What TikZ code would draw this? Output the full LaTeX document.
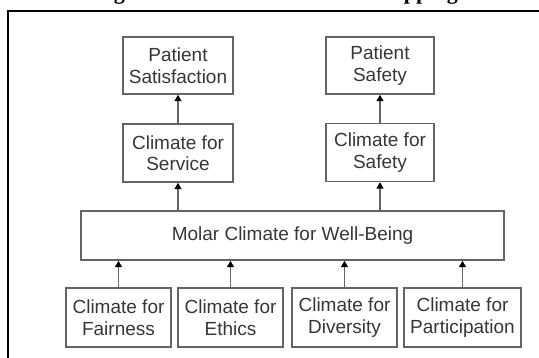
\documentclass[tikz,border=0pt]{standalone}
\usepackage{fontspec}
\setmainfont{Liberation Sans}
\newfontfamily\headfont{Liberation Serif}
\usetikzlibrary{arrows.meta}
\definecolor{boxline}{HTML}{646464}
\definecolor{boxtext}{HTML}{363636}
\begin{document}
\begin{tikzpicture}[x=1pt,y=-1pt,
  box/.style={draw=boxline, line width=1.5pt, text=boxtext, inner sep=0pt,
              align=center, font=\fontsize{19}{21.5}\selectfont},
  link/.style={draw=boxline, line width=1.5pt,
               -{Triangle[length=6.5pt,width=7pt,color=black]}},
  headline/.style={anchor=base west, inner sep=0pt,
                   font=\headfont\bfseries\fontsize{22}{26}\selectfont}]
\useasboundingbox (0,0) rectangle (539,358);
\begin{scope}
  \clip (0,0) rectangle (539,358);
  % heading line above the frame (only its lowest strokes fall inside)
  \node[headline] (hfig) at (94,0) {Figure};
  \node[headline] (hmap) at (372,0) {Mapping};
  % frame
  \draw[line width=2.5pt] (7.8,362) -- (7.8,11.2) -- (545,11.2);
\end{scope}

% outcomes
\node[box, minimum width=110pt, minimum height=57pt] (psat) at (178,65.5) {Patient\\Satisfaction};
\node[box, minimum width=108pt, minimum height=57pt] (psafe) at (380,65.5) {Patient\\Safety};

% focused climates
\node[box, minimum width=110pt, minimum height=58pt] (cserv) at (178,153) {Climate for\\Service};
\node[box, minimum width=108pt, minimum height=58pt] (csafe) at (380,152.5) {Climate for\\Safety};

% molar climate
\node[box, minimum width=423pt, minimum height=49pt] (molar) at (292.5,235.5) {Molar Climate for Well-Being};

% foundation climates
\node[box, minimum width=105pt, minimum height=59pt] (fair) at (118.5,317.5) {Climate for\\Fairness};
\node[box, minimum width=105pt, minimum height=59pt] (ethic) at (230.5,317.5) {Climate for\\Ethics};
\node[box, minimum width=105pt, minimum height=59pt] (div) at (344.5,317.5) {Climate for\\Diversity};
\node[box, minimum width=117pt, minimum height=59pt] (part) at (462.5,317.5) {Climate for\\Participation};

% links
\draw[link] (cserv.north) -- (psat.south);
\draw[link] (csafe.north) -- (psafe.south);
\draw[link] (cserv.south |- molar.north) -- (cserv.south);
\draw[link] (csafe.south |- molar.north) -- (csafe.south);
\foreach \n in {fair,ethic,div,part}
  \draw[link] (\n.north) -- (\n.north |- molar.south);
\end{tikzpicture}
\end{document}
